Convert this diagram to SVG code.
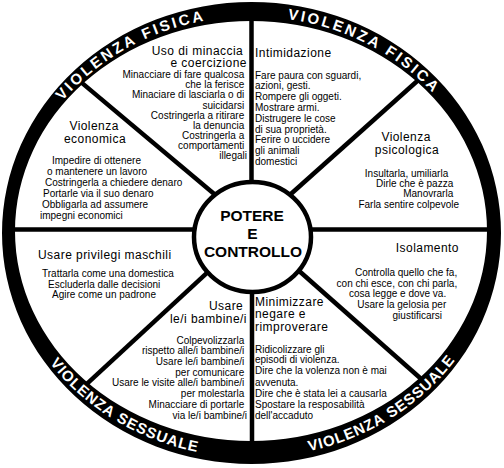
<svg xmlns="http://www.w3.org/2000/svg" width="504" height="468" viewBox="0 0 504 468">
<style>
.t{font-family:"Liberation Sans",Arial,sans-serif;font-size:10px;fill:#000}
.h{font-family:"Liberation Sans",Arial,sans-serif;font-size:12px;letter-spacing:0.45px;fill:#000}
.c{font-family:"Liberation Sans",Arial,sans-serif;font-size:15.5px;font-weight:bold;fill:#000;text-anchor:middle}
.r{font-family:"Liberation Sans",Arial,sans-serif;font-size:15px;font-weight:bold;fill:#fff}
.f{letter-spacing:2.6px}
.s{letter-spacing:0.9px}
.e{text-anchor:end}
.m{text-anchor:middle}
.sp{stroke:#000;stroke-width:4.5;fill:none}
</style>
<defs>
<path id="arcTL" d="M 32.0 148.8 A 237.7 215.5 0 0 1 262.5 16.7"/>
<path id="arcTR" d="M 230.6 17.3 A 237.7 215.5 0 0 1 466.7 140.9"/>
<path id="arcBL" d="M 20.1 312.8 A 247.7 225.5 0 0 0 255.6 457.5"/>
<path id="arcBR" d="M 251.3 457.5 A 247.7 225.5 0 0 0 484.1 309.1"/>
</defs>
<rect width="504" height="468" fill="#fff"/>
<g id="connectors" class="sp">
<line x1="251.5" y1="12" x2="251.5" y2="200"/>
<line x1="252" y1="270" x2="252" y2="450"/>
<line x1="7" y1="229.5" x2="210" y2="229.5"/>
<line x1="300" y1="229.5" x2="495" y2="229.5"/>
<line x1="78" y1="79.6" x2="231.8" y2="208.8"/>
<line x1="424.8" y1="74.2" x2="267.4" y2="215"/>
<line x1="80.6" y1="389.7" x2="231.6" y2="250.2"/>
<line x1="263" y1="239" x2="428.6" y2="385.5"/>
</g>
<g id="ring">
<path fill="#000" fill-rule="evenodd" d="M 2 233 A 249.5 231 0 1 1 501 233 A 249.5 231 0 1 1 2 233 Z M 15 231 A 236 210 0 1 0 487 231 A 236 210 0 1 0 15 231 Z"/>
<text class="r f"><textPath href="#arcTL" startOffset="56.7">VIOLENZA</textPath></text>
<text class="r f"><textPath href="#arcTL" startOffset="160.1">FISICA</textPath></text>
<text class="r f"><textPath href="#arcTR" startOffset="57">VIOLENZA</textPath></text>
<text class="r f"><textPath href="#arcTR" startOffset="160.4">FISICA</textPath></text>
<text class="r s"><textPath href="#arcBL" startOffset="58.5">VIOLENZA</textPath></text>
<text class="r s"><textPath href="#arcBL" startOffset="146.6">SESSUALE</textPath></text>
<text class="r s"><textPath href="#arcBR" startOffset="58.3">VIOLENZA</textPath></text>
<text class="r s"><textPath href="#arcBR" startOffset="146.4">SESSUALE</textPath></text>
</g>
<g id="minaccia">
<text class="h e">
<tspan x="247" y="54.5">Uso di minaccia</tspan>
<tspan x="247" y="67">e coercizione</tspan>
</text>
<text class="t e">
<tspan x="247" y="78">Minacciare di fare qualcosa</tspan>
<tspan x="247" y="88.2">che la ferisce</tspan>
<tspan x="247" y="98.4">Minaciare di lasciarla o di</tspan>
<tspan x="247" y="108.5">suicidarsi</tspan>
<tspan x="247" y="118.7">Costringerla a ritirare</tspan>
<tspan x="247" y="128.8">la denuncia</tspan>
<tspan x="247" y="139">Costringerla a</tspan>
<tspan x="247" y="149.1">comportamenti</tspan>
<tspan x="247" y="159.3">illegali</tspan>
</text>
</g>
<g id="intimidazione">
<text class="h" x="255" y="57">Intimidazione</text>
<text class="t">
<tspan x="255" y="78.5">Fare paura con sguardi,</tspan>
<tspan x="255" y="89.3">azioni, gesti.</tspan>
<tspan x="255" y="100.1">Rompere gli oggeti.</tspan>
<tspan x="255" y="110.9">Mostrare armi.</tspan>
<tspan x="255" y="121.7">Distrugere le cose</tspan>
<tspan x="255" y="132.5">di sua proprietà.</tspan>
<tspan x="255" y="143.3">Ferire o uccidere</tspan>
<tspan x="255" y="154.1">gli animali</tspan>
<tspan x="255" y="164.9">domestici</tspan>
</text>
</g>
<g id="psicologica">
<text class="h m">
<tspan x="408" y="141">Violenza</tspan>
<tspan x="407" y="153.5">psicologica</tspan>
</text>
<text class="t e">
<tspan x="451" y="176.5">Insultarla, umiliarla</tspan>
<tspan x="456" y="186.7">Dirle che è pazza</tspan>
<tspan x="456" y="197">Manovrarla</tspan>
<tspan x="459" y="207.5">Farla sentire colpevole</tspan>
</text>
</g>
<g id="economica">
<text class="h m">
<tspan x="96" y="130">Violenza</tspan>
<tspan x="95" y="142.5">economica</tspan>
</text>
<text class="t">
<tspan x="52" y="163.5">Impedire di ottenere</tspan>
<tspan x="47" y="175">o mantenere un lavoro</tspan>
<tspan x="45" y="186">Costringerla a chiedere denaro</tspan>
<tspan x="43" y="196.8">Portarle via il suo denaro</tspan>
<tspan x="42" y="207.5">Obbligarla ad assumere</tspan>
<tspan x="40" y="218.5">impegni economici</tspan>
</text>
</g>
<g id="privilegi">
<text class="h" x="38" y="258.5">Usare privilegi maschili</text>
<text class="t">
<tspan x="42" y="277">Trattarla come una domestica</tspan>
<tspan x="48" y="287.6">Escluderla dalle decisioni</tspan>
<tspan x="52" y="298.2">Agire come un padrone</tspan>
</text>
</g>
<g id="bambini">
<text class="h e">
<tspan x="247" y="310">Usare</tspan>
<tspan x="247" y="322.5">le/i bambine/i</tspan>
</text>
<text class="t e">
<tspan x="247" y="343.5">Colpevolizzarla</tspan>
<tspan x="247" y="354.2">rispetto alle/i bambine/i</tspan>
<tspan x="247" y="364.9">Usare le/i bambine/i</tspan>
<tspan x="247" y="375.6">per comunicare</tspan>
<tspan x="247" y="386.3">Usare le visite alle/i bambine/i</tspan>
<tspan x="247" y="397">per molestarla</tspan>
<tspan x="247" y="407.8">Minacciare di portarle</tspan>
<tspan x="247" y="419">via le/i bambine/i</tspan>
</text>
</g>
<g id="minimizzare">
<text class="h">
<tspan x="255" y="305.5">Minimizzare</tspan>
<tspan x="255" y="318">negare e</tspan>
<tspan x="255" y="330.5">rimproverare</tspan>
</text>
<text class="t">
<tspan x="255" y="352.5">Ridicolizzare gli</tspan>
<tspan x="255" y="363.2">episodi di violenza.</tspan>
<tspan x="255" y="374.2">Dire che la volenza non è mai</tspan>
<tspan x="255" y="385.8">avvenuta.</tspan>
<tspan x="255" y="396.8">Dire che è stata lei a causarla</tspan>
<tspan x="255" y="408.2">Spostare la resposabilità</tspan>
<tspan x="255" y="419.2">dell'accaduto</tspan>
</text>
</g>
<g id="isolamento">
<text class="h e" x="459" y="252">Isolamento</text>
<text class="t e">
<tspan x="460" y="276">Controlla quello che fa,</tspan>
<tspan x="460" y="286.7">con chi esce, con chi parla,</tspan>
<tspan x="449" y="297.4">cosa legge e dove va.</tspan>
<tspan x="449" y="308.1">Usare la gelosia per</tspan>
<tspan x="442" y="318.8">giustificarsi</tspan>
</text>
</g>
<g id="centro">
<ellipse cx="252.5" cy="237" rx="58.5" ry="55" fill="#fff" stroke="#000" stroke-width="4.5"/>
<text class="c" x="252" y="221">POTERE</text>
<text class="c" x="252.5" y="238.5">E</text>
<text class="c" x="253" y="256.5">CONTROLLO</text>
</g>
</svg>
